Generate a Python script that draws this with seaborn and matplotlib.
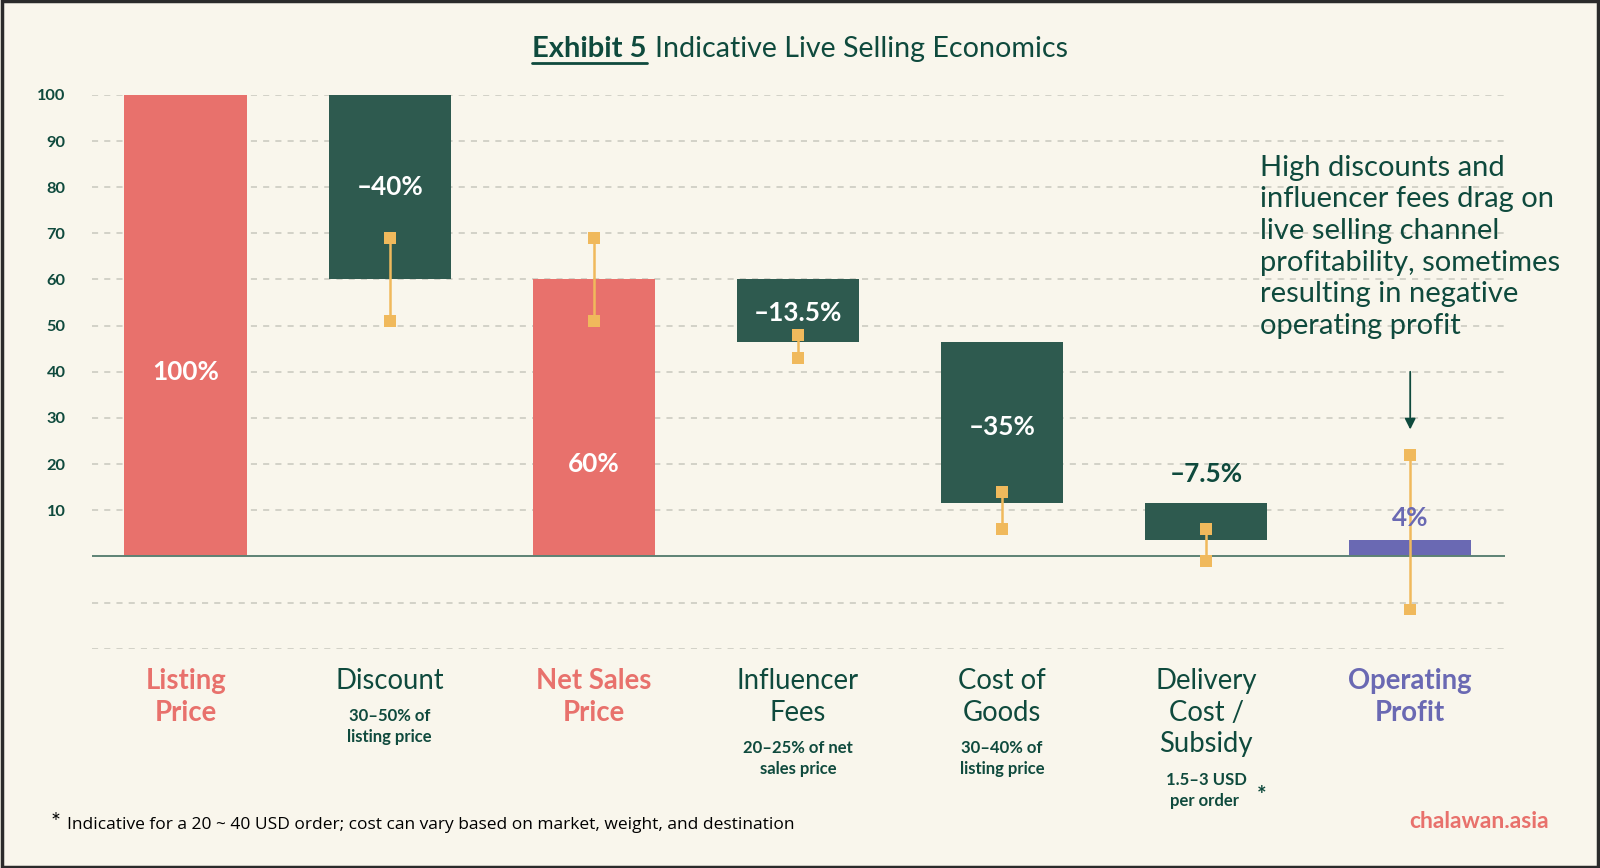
import matplotlib
matplotlib.use("Agg")
import matplotlib.pyplot as plt
import seaborn as sns
import pandas as pd
import numpy as np
from matplotlib.transforms import blended_transform_factory
from matplotlib.lines import Line2D

# ---------------- data ----------------
categories = ["Listing Price", "Discount", "Net Sales Price", "Influencer Fees",
              "Cost of Goods", "Delivery Cost / Subsidy", "Operating Profit"]
bar_bottoms = [0, 60, 0, 46.5, 11.5, 3.5, 0]
bar_tops = [100, 100, 60, 60, 46.5, 11.5, 3.5]
value_labels = ["100%", "–40%", "60%", "–13.5%", "–35%", "–7.5%", "4%"]
label_y = [40, 80, 20, 52.8, 28, 17.8, 8.3]
range_low = [np.nan, 51, 51, 43, 6, -1, -11.5]
range_high = [np.nan, 69, 69, 48, 14, 6, 22]
main_labels = ["Listing\nPrice", "Discount", "Net Sales\nPrice", "Influencer\nFees",
               "Cost of\nGoods", "Delivery\nCost /\nSubsidy", "Operating\nProfit"]
sub_labels = ["", "30–50% of\nlisting price", "", "20–25% of net\nsales price",
              "30–40% of\nlisting price", "1.5–3 USD\n  per order   ", ""]
y_ticks = list(range(-20, 101, 10))

# ---------------- style ----------------
BG = "#f9f6ec"
RED = "#e8716c"
GREEN = "#2e5a4f"
PURPLE = "#6a69b3"
ORANGE = "#f0b95c"
TEXT = "#0f4a3d"
GRID = "#c8c8be"

bar_colors = [RED, GREEN, RED, GREEN, GREEN, GREEN, PURPLE]
cat_colors = [RED, TEXT, RED, TEXT, TEXT, TEXT, PURPLE]
cat_weights = ["bold", "normal", "bold", "normal", "normal", "normal", "bold"]
val_colors = ["white", "white", "white", "white", "white", TEXT, PURPLE]

W, H = 1568.0, 851.0  # reference pixel space


def fx(px):
    return px / W


def fy(py):
    return 1 - py / H


sns.set_theme(style="white")
plt.rcParams["font.family"] = ["Lato", "DejaVu Sans"]

fig = plt.figure(figsize=(16, 8.68), dpi=100, facecolor=BG)
ax = fig.add_axes([fx(90), fy(636), fx(1475) - fx(90), fy(93) - fy(636)])
ax.set_facecolor(BG)

df = pd.DataFrame({
    "category": categories,
    "height": np.array(bar_tops) - np.array(bar_bottoms),
    "bottom": bar_bottoms,
})

sns.barplot(data=df, x="category", y="height", color=GREEN,
            bottom=df["bottom"].values, width=0.6, ax=ax, zorder=3,
            saturation=1, linewidth=0)
for patch, c in zip(ax.patches, bar_colors):
    patch.set_facecolor(c)

ax.set_xlim(-0.46, 6.465)
ax.set_ylim(-20, 100)
ax.set_yticks(y_ticks)
ax.set_yticklabels([str(v) if v > 0 else "" for v in y_ticks],
                   fontsize=11.8, fontweight="bold", color=TEXT)
ax.tick_params(axis="y", length=0, pad=19)
ax.set_xticks([])
ax.set_xlabel("")
ax.set_ylabel("")
for s in ax.spines.values():
    s.set_visible(False)
for v in y_ticks:
    if v != 0:
        ax.axhline(v, color=GRID, lw=1.1, ls=(0, (4, 4)), zorder=1)
ax.axhline(0, color="#5d8274", lw=1.4, zorder=4)

# value labels
for i, (lab, yv, c) in enumerate(zip(value_labels, label_y, val_colors)):
    ax.text(i, yv, lab, ha="center", va="center", fontsize=18.8,
            fontweight="bold", color=c, zorder=6)

# range markers
xs = np.arange(len(categories))
mask = ~np.isnan(range_low)
ax.vlines(xs[mask], np.array(range_low)[mask], np.array(range_high)[mask],
          color=ORANGE, lw=1.8, zorder=5)
pts = pd.DataFrame({
    "x": np.concatenate([xs[mask], xs[mask]]),
    "y": np.concatenate([np.array(range_low)[mask], np.array(range_high)[mask]]),
})
sns.scatterplot(data=pts, x="x", y="y", marker="s", s=70, color=ORANGE,
                edgecolor="none", zorder=6, ax=ax, legend=False)
ax.set_xlabel("")
ax.set_ylabel("")

# category labels below axis
trans = blended_transform_factory(ax.transData, fig.transFigure)
for i in range(len(categories)):
    n = main_labels[i].count("\n") + 1
    top = 655
    ax.text(i, fy(top), main_labels[i], transform=trans, ha="center", va="top",
            fontsize=19.8, color=cat_colors[i], fontweight=cat_weights[i],
            linespacing=1.27, clip_on=False)
    if sub_labels[i]:
        stop = top + n * 31.3 + 8
        ax.text(i, fy(stop), sub_labels[i], transform=trans, ha="center", va="top",
                fontsize=12, color=TEXT, fontweight="bold", linespacing=1.4,
                clip_on=False)
# asterisk next to delivery note
ax.text(5.27, fy(780), "*", transform=trans, ha="center", va="center",
        fontsize=16, color=TEXT, fontweight="bold", clip_on=False)

# annotation
ax.text(5.265, 87.0,
        "High discounts and\ninfluencer fees drag on\nlive selling channel\n"
        "profitability, sometimes\nresulting in negative\noperating profit",
        ha="left", va="top", fontsize=21, color=TEXT, linespacing=1.265,
        clip_on=False, zorder=7)
ax.annotate("", xy=(6, 27.5), xytext=(6, 40),
            arrowprops=dict(arrowstyle="-|>", color=TEXT, lw=1.3,
                            mutation_scale=16, shrinkA=0, shrinkB=0))

# title
t1 = fig.text(fx(634), fy(48), "Exhibit 5", ha="right", va="center",
              fontsize=21, fontweight="bold", color=TEXT)
t2 = fig.text(fx(642), fy(48), "Indicative Live Selling Economics",
              ha="left", va="center", fontsize=20.6, color=TEXT)
fig.canvas.draw()
bb = t1.get_window_extent()
fig.add_artist(Line2D([bb.x0 / 1600, bb.x1 / 1600], [fy(62), fy(62)],
                      transform=fig.transFigure, color=TEXT, lw=2))

# footnote and source
fig.text(fx(50), fy(806), "*", ha="left", va="center", fontsize=17,
         color="black")
fig.text(fx(66), fy(809),
         "Indicative for a 20 ~ 40 USD order; cost can vary based on market, weight, and destination",
         ha="left", va="center", fontsize=12.5, color="black",
         family=["Open Sans", "DejaVu Sans"])
fig.text(fx(1518), fy(805), "chalawan.asia", ha="right", va="center",
         fontsize=16.5, color=RED, fontweight="bold")

# frame
fig.add_artist(plt.Rectangle((0.001, 0.001), 0.998, 0.998, transform=fig.transFigure,
                             fill=False, edgecolor="#2b2b2b", lw=2.5))

fig.savefig("out.png", dpi=100, facecolor=BG)
